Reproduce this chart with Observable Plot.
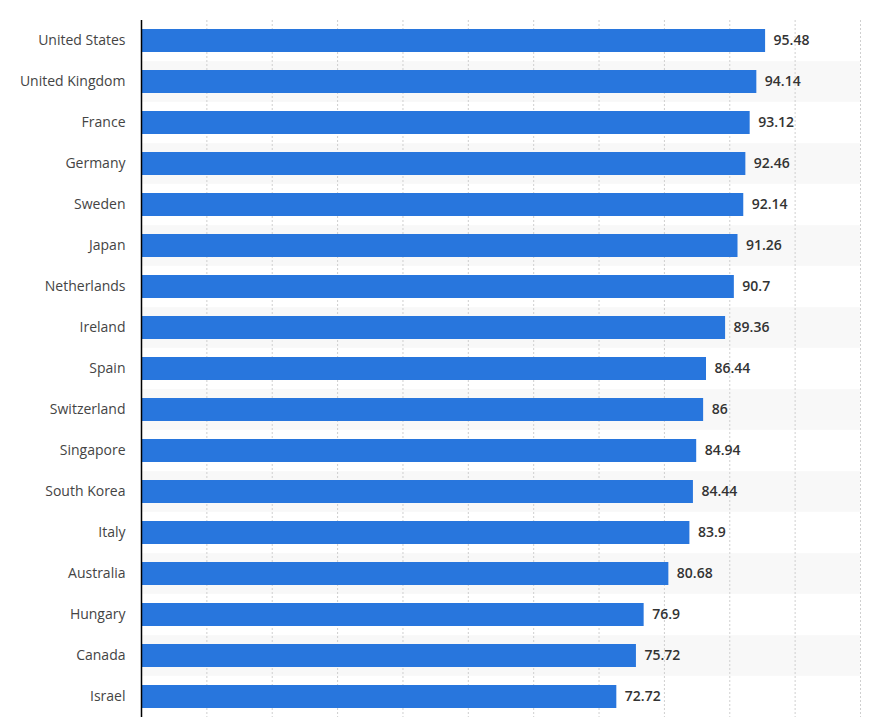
<!DOCTYPE html>
<html>
<head>
<meta charset="utf-8">
<script src="https://cdn.jsdelivr.net/npm/d3@7"></script>
<script src="https://cdn.jsdelivr.net/npm/@observablehq/plot@0.6"></script>
<style>
  html, body { margin: 0; padding: 0; background: #fff; }
  #chart svg { display: block; }
</style>
</head>
<body>
<div id="chart"></div>
<script>
const countries = ["United States","United Kingdom","France","Germany","Sweden","Japan","Netherlands","Ireland","Spain","Switzerland","Singapore","South Korea","Italy","Australia","Hungary","Canada","Israel"];
const values = [95.48,94.14,93.12,92.46,92.14,91.26,90.7,89.36,86.44,86,84.94,84.44,83.9,80.68,76.9,75.72,72.72];
const gridTicks = [10,20,30,40,50,60,70,80,90,100,110];

const data = countries.map((c, i) => ({country: c, value: values[i], i}));
const stripes = data.filter(d => d.i % 2 === 1);
const pad = 0.43;
const step = 41;

const chart = Plot.plot({
  width: 893,
  height: 719,
  marginLeft: 141,
  marginRight: 33,
  marginTop: 20,
  marginBottom: 2,
  style: {fontFamily: "'Open Sans', sans-serif", fontSize: "14px", background: "#fff"},
  x: {domain: [0, 110], axis: null},
  y: {domain: countries, paddingInner: pad, paddingOuter: pad / 2, label: null},
  marks: [
    Plot.barX(stripes, {y: "country", x1: 0, x2: 110, fill: "#f8f8f8", insetTop: -(step * pad / 2), insetBottom: -(step * pad / 2)}),
    Plot.ruleX(gridTicks, {stroke: "#cfcfcf", strokeDasharray: "2,2", strokeWidth: 1}),
    Plot.barX(data, {y: "country", x: "value", fill: "#2876dd"}),
    Plot.text(data, {y: "country", x: "value", text: d => String(d.value), textAnchor: "start", dx: 8, fill: "#333", fontWeight: 600, fontSize: 14}),
    Plot.ruleX([0], {stroke: "#000", strokeWidth: 1.5}),
    Plot.axisY({tickSize: 0, tickPadding: 16, fill: "#444", fontSize: 14, label: null})
  ]
});
document.getElementById("chart").appendChild(chart);
</script>
</body>
</html>
